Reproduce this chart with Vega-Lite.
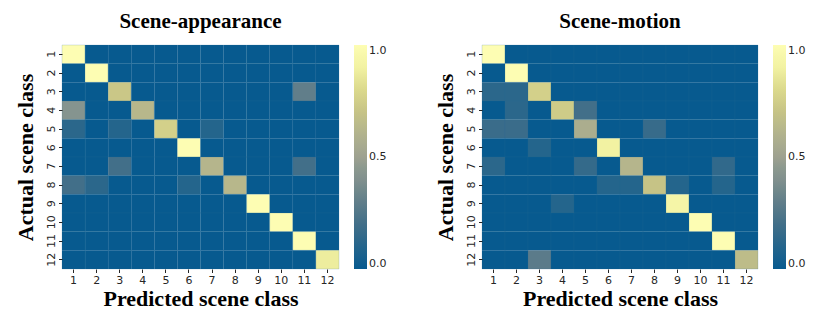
{
  "$schema": "https://vega.github.io/schema/vega-lite/v6.json",
  "background": "white",
  "padding": {"left": 14, "top": 10, "right": 5, "bottom": 3},
  "spacing": 47,
  "datasets": {
    "appearance": [
      {"actual":1,"predicted":1,"value":1},{"actual":1,"predicted":2,"value":0},{"actual":1,"predicted":3,"value":0},{"actual":1,"predicted":4,"value":0},{"actual":1,"predicted":5,"value":0},{"actual":1,"predicted":6,"value":0},{"actual":1,"predicted":7,"value":0},{"actual":1,"predicted":8,"value":0},{"actual":1,"predicted":9,"value":0},{"actual":1,"predicted":10,"value":0},{"actual":1,"predicted":11,"value":0},{"actual":1,"predicted":12,"value":0},
      {"actual":2,"predicted":1,"value":0},{"actual":2,"predicted":2,"value":1},{"actual":2,"predicted":3,"value":0},{"actual":2,"predicted":4,"value":0},{"actual":2,"predicted":5,"value":0},{"actual":2,"predicted":6,"value":0},{"actual":2,"predicted":7,"value":0},{"actual":2,"predicted":8,"value":0},{"actual":2,"predicted":9,"value":0},{"actual":2,"predicted":10,"value":0},{"actual":2,"predicted":11,"value":0},{"actual":2,"predicted":12,"value":0},
      {"actual":3,"predicted":1,"value":0},{"actual":3,"predicted":2,"value":0},{"actual":3,"predicted":3,"value":0.72},{"actual":3,"predicted":4,"value":0},{"actual":3,"predicted":5,"value":0},{"actual":3,"predicted":6,"value":0},{"actual":3,"predicted":7,"value":0},{"actual":3,"predicted":8,"value":0},{"actual":3,"predicted":9,"value":0},{"actual":3,"predicted":10,"value":0},{"actual":3,"predicted":11,"value":0.3},{"actual":3,"predicted":12,"value":0},
      {"actual":4,"predicted":1,"value":0.42},{"actual":4,"predicted":2,"value":0},{"actual":4,"predicted":3,"value":0},{"actual":4,"predicted":4,"value":0.63},{"actual":4,"predicted":5,"value":0},{"actual":4,"predicted":6,"value":0},{"actual":4,"predicted":7,"value":0},{"actual":4,"predicted":8,"value":0},{"actual":4,"predicted":9,"value":0},{"actual":4,"predicted":10,"value":0},{"actual":4,"predicted":11,"value":0},{"actual":4,"predicted":12,"value":0},
      {"actual":5,"predicted":1,"value":0.12},{"actual":5,"predicted":2,"value":0},{"actual":5,"predicted":3,"value":0.1},{"actual":5,"predicted":4,"value":0},{"actual":5,"predicted":5,"value":0.76},{"actual":5,"predicted":6,"value":0},{"actual":5,"predicted":7,"value":0.1},{"actual":5,"predicted":8,"value":0},{"actual":5,"predicted":9,"value":0},{"actual":5,"predicted":10,"value":0},{"actual":5,"predicted":11,"value":0},{"actual":5,"predicted":12,"value":0},
      {"actual":6,"predicted":1,"value":0},{"actual":6,"predicted":2,"value":0},{"actual":6,"predicted":3,"value":0},{"actual":6,"predicted":4,"value":0},{"actual":6,"predicted":5,"value":0},{"actual":6,"predicted":6,"value":1},{"actual":6,"predicted":7,"value":0},{"actual":6,"predicted":8,"value":0},{"actual":6,"predicted":9,"value":0},{"actual":6,"predicted":10,"value":0},{"actual":6,"predicted":11,"value":0},{"actual":6,"predicted":12,"value":0},
      {"actual":7,"predicted":1,"value":0},{"actual":7,"predicted":2,"value":0},{"actual":7,"predicted":3,"value":0.2},{"actual":7,"predicted":4,"value":0},{"actual":7,"predicted":5,"value":0},{"actual":7,"predicted":6,"value":0},{"actual":7,"predicted":7,"value":0.62},{"actual":7,"predicted":8,"value":0},{"actual":7,"predicted":9,"value":0},{"actual":7,"predicted":10,"value":0},{"actual":7,"predicted":11,"value":0.2},{"actual":7,"predicted":12,"value":0},
      {"actual":8,"predicted":1,"value":0.2},{"actual":8,"predicted":2,"value":0.12},{"actual":8,"predicted":3,"value":0},{"actual":8,"predicted":4,"value":0},{"actual":8,"predicted":5,"value":0},{"actual":8,"predicted":6,"value":0.1},{"actual":8,"predicted":7,"value":0},{"actual":8,"predicted":8,"value":0.63},{"actual":8,"predicted":9,"value":0},{"actual":8,"predicted":10,"value":0},{"actual":8,"predicted":11,"value":0},{"actual":8,"predicted":12,"value":0},
      {"actual":9,"predicted":1,"value":0},{"actual":9,"predicted":2,"value":0},{"actual":9,"predicted":3,"value":0},{"actual":9,"predicted":4,"value":0},{"actual":9,"predicted":5,"value":0},{"actual":9,"predicted":6,"value":0},{"actual":9,"predicted":7,"value":0},{"actual":9,"predicted":8,"value":0},{"actual":9,"predicted":9,"value":1},{"actual":9,"predicted":10,"value":0},{"actual":9,"predicted":11,"value":0},{"actual":9,"predicted":12,"value":0},
      {"actual":10,"predicted":1,"value":0},{"actual":10,"predicted":2,"value":0},{"actual":10,"predicted":3,"value":0},{"actual":10,"predicted":4,"value":0},{"actual":10,"predicted":5,"value":0},{"actual":10,"predicted":6,"value":0},{"actual":10,"predicted":7,"value":0},{"actual":10,"predicted":8,"value":0},{"actual":10,"predicted":9,"value":0},{"actual":10,"predicted":10,"value":1},{"actual":10,"predicted":11,"value":0},{"actual":10,"predicted":12,"value":0},
      {"actual":11,"predicted":1,"value":0},{"actual":11,"predicted":2,"value":0},{"actual":11,"predicted":3,"value":0},{"actual":11,"predicted":4,"value":0},{"actual":11,"predicted":5,"value":0},{"actual":11,"predicted":6,"value":0},{"actual":11,"predicted":7,"value":0},{"actual":11,"predicted":8,"value":0},{"actual":11,"predicted":9,"value":0},{"actual":11,"predicted":10,"value":0},{"actual":11,"predicted":11,"value":1},{"actual":11,"predicted":12,"value":0},
      {"actual":12,"predicted":1,"value":0},{"actual":12,"predicted":2,"value":0},{"actual":12,"predicted":3,"value":0},{"actual":12,"predicted":4,"value":0},{"actual":12,"predicted":5,"value":0},{"actual":12,"predicted":6,"value":0},{"actual":12,"predicted":7,"value":0},{"actual":12,"predicted":8,"value":0},{"actual":12,"predicted":9,"value":0},{"actual":12,"predicted":10,"value":0},{"actual":12,"predicted":11,"value":0},{"actual":12,"predicted":12,"value":0.88}
    ],
    "motion": [
      {"actual":1,"predicted":1,"value":1},{"actual":1,"predicted":2,"value":0},{"actual":1,"predicted":3,"value":0},{"actual":1,"predicted":4,"value":0},{"actual":1,"predicted":5,"value":0},{"actual":1,"predicted":6,"value":0},{"actual":1,"predicted":7,"value":0},{"actual":1,"predicted":8,"value":0},{"actual":1,"predicted":9,"value":0},{"actual":1,"predicted":10,"value":0},{"actual":1,"predicted":11,"value":0},{"actual":1,"predicted":12,"value":0},
      {"actual":2,"predicted":1,"value":0},{"actual":2,"predicted":2,"value":1},{"actual":2,"predicted":3,"value":0},{"actual":2,"predicted":4,"value":0},{"actual":2,"predicted":5,"value":0},{"actual":2,"predicted":6,"value":0},{"actual":2,"predicted":7,"value":0},{"actual":2,"predicted":8,"value":0},{"actual":2,"predicted":9,"value":0},{"actual":2,"predicted":10,"value":0},{"actual":2,"predicted":11,"value":0},{"actual":2,"predicted":12,"value":0},
      {"actual":3,"predicted":1,"value":0.12},{"actual":3,"predicted":2,"value":0.12},{"actual":3,"predicted":3,"value":0.76},{"actual":3,"predicted":4,"value":0},{"actual":3,"predicted":5,"value":0},{"actual":3,"predicted":6,"value":0},{"actual":3,"predicted":7,"value":0},{"actual":3,"predicted":8,"value":0},{"actual":3,"predicted":9,"value":0},{"actual":3,"predicted":10,"value":0},{"actual":3,"predicted":11,"value":0},{"actual":3,"predicted":12,"value":0},
      {"actual":4,"predicted":1,"value":0},{"actual":4,"predicted":2,"value":0.12},{"actual":4,"predicted":3,"value":0},{"actual":4,"predicted":4,"value":0.74},{"actual":4,"predicted":5,"value":0.2},{"actual":4,"predicted":6,"value":0},{"actual":4,"predicted":7,"value":0},{"actual":4,"predicted":8,"value":0},{"actual":4,"predicted":9,"value":0},{"actual":4,"predicted":10,"value":0},{"actual":4,"predicted":11,"value":0},{"actual":4,"predicted":12,"value":0},
      {"actual":5,"predicted":1,"value":0.17},{"actual":5,"predicted":2,"value":0.17},{"actual":5,"predicted":3,"value":0},{"actual":5,"predicted":4,"value":0},{"actual":5,"predicted":5,"value":0.57},{"actual":5,"predicted":6,"value":0},{"actual":5,"predicted":7,"value":0},{"actual":5,"predicted":8,"value":0.16},{"actual":5,"predicted":9,"value":0},{"actual":5,"predicted":10,"value":0},{"actual":5,"predicted":11,"value":0},{"actual":5,"predicted":12,"value":0},
      {"actual":6,"predicted":1,"value":0},{"actual":6,"predicted":2,"value":0},{"actual":6,"predicted":3,"value":0.1},{"actual":6,"predicted":4,"value":0},{"actual":6,"predicted":5,"value":0},{"actual":6,"predicted":6,"value":0.9},{"actual":6,"predicted":7,"value":0},{"actual":6,"predicted":8,"value":0},{"actual":6,"predicted":9,"value":0},{"actual":6,"predicted":10,"value":0},{"actual":6,"predicted":11,"value":0},{"actual":6,"predicted":12,"value":0},
      {"actual":7,"predicted":1,"value":0.12},{"actual":7,"predicted":2,"value":0},{"actual":7,"predicted":3,"value":0},{"actual":7,"predicted":4,"value":0},{"actual":7,"predicted":5,"value":0.15},{"actual":7,"predicted":6,"value":0},{"actual":7,"predicted":7,"value":0.62},{"actual":7,"predicted":8,"value":0},{"actual":7,"predicted":9,"value":0},{"actual":7,"predicted":10,"value":0},{"actual":7,"predicted":11,"value":0.14},{"actual":7,"predicted":12,"value":0},
      {"actual":8,"predicted":1,"value":0},{"actual":8,"predicted":2,"value":0},{"actual":8,"predicted":3,"value":0},{"actual":8,"predicted":4,"value":0},{"actual":8,"predicted":5,"value":0},{"actual":8,"predicted":6,"value":0.1},{"actual":8,"predicted":7,"value":0.1},{"actual":8,"predicted":8,"value":0.7},{"actual":8,"predicted":9,"value":0.1},{"actual":8,"predicted":10,"value":0},{"actual":8,"predicted":11,"value":0.1},{"actual":8,"predicted":12,"value":0},
      {"actual":9,"predicted":1,"value":0},{"actual":9,"predicted":2,"value":0},{"actual":9,"predicted":3,"value":0},{"actual":9,"predicted":4,"value":0.1},{"actual":9,"predicted":5,"value":0},{"actual":9,"predicted":6,"value":0},{"actual":9,"predicted":7,"value":0},{"actual":9,"predicted":8,"value":0},{"actual":9,"predicted":9,"value":0.93},{"actual":9,"predicted":10,"value":0},{"actual":9,"predicted":11,"value":0},{"actual":9,"predicted":12,"value":0},
      {"actual":10,"predicted":1,"value":0},{"actual":10,"predicted":2,"value":0},{"actual":10,"predicted":3,"value":0},{"actual":10,"predicted":4,"value":0},{"actual":10,"predicted":5,"value":0},{"actual":10,"predicted":6,"value":0},{"actual":10,"predicted":7,"value":0},{"actual":10,"predicted":8,"value":0},{"actual":10,"predicted":9,"value":0},{"actual":10,"predicted":10,"value":1},{"actual":10,"predicted":11,"value":0},{"actual":10,"predicted":12,"value":0},
      {"actual":11,"predicted":1,"value":0},{"actual":11,"predicted":2,"value":0},{"actual":11,"predicted":3,"value":0},{"actual":11,"predicted":4,"value":0},{"actual":11,"predicted":5,"value":0},{"actual":11,"predicted":6,"value":0},{"actual":11,"predicted":7,"value":0},{"actual":11,"predicted":8,"value":0},{"actual":11,"predicted":9,"value":0},{"actual":11,"predicted":10,"value":0},{"actual":11,"predicted":11,"value":1},{"actual":11,"predicted":12,"value":0},
      {"actual":12,"predicted":1,"value":0},{"actual":12,"predicted":2,"value":0},{"actual":12,"predicted":3,"value":0.28},{"actual":12,"predicted":4,"value":0},{"actual":12,"predicted":5,"value":0},{"actual":12,"predicted":6,"value":0},{"actual":12,"predicted":7,"value":0},{"actual":12,"predicted":8,"value":0},{"actual":12,"predicted":9,"value":0},{"actual":12,"predicted":10,"value":0},{"actual":12,"predicted":11,"value":0},{"actual":12,"predicted":12,"value":0.66}
    ]
  },
  "hconcat": [
    {
      "data": {"name": "appearance"},
      "title": {"text": "Scene-appearance"},
      "width": 277,
      "height": 224,
      "mark": {"type": "rect", "stroke": "#2a6c9b", "strokeWidth": 0.5, "strokeOpacity": 0.35},
      "encoding": {
        "x": {"field": "predicted", "type": "ordinal", "title": "Predicted scene class"},
        "y": {"field": "actual", "type": "ordinal", "title": "Actual scene class"},
        "color": {
          "field": "value", "type": "quantitative",
          "scale": {"type": "linear", "domain": [0, 1], "nice": false, "zero": false, "range": ["#075a8f","#24658c","#426f89","#617e8a","#81908e","#9ea190","#b1b28d","#c6c386","#dbd98c","#f2f2a2","#fdfdb3"]},
          "legend": {"values": [0, 0.5, 1], "format": ".1f", "title": null}
        }
      }
    },
    {
      "data": {"name": "motion"},
      "title": {"text": "Scene-motion"},
      "width": 276,
      "height": 224,
      "mark": {"type": "rect", "stroke": "#2a6c9b", "strokeWidth": 0.5, "strokeOpacity": 0.35},
      "encoding": {
        "x": {"field": "predicted", "type": "ordinal", "title": "Predicted scene class"},
        "y": {"field": "actual", "type": "ordinal", "title": "Actual scene class"},
        "color": {
          "field": "value", "type": "quantitative",
          "scale": {"type": "linear", "domain": [0, 1], "nice": false, "zero": false, "range": ["#075a8f","#24658c","#426f89","#617e8a","#81908e","#9ea190","#b1b28d","#c6c386","#dbd98c","#f2f2a2","#fdfdb3"]},
          "legend": {"values": [0, 0.5, 1], "format": ".1f", "title": null}
        }
      }
    }
  ],
  "resolve": {"scale": {"color": "independent"}},
  "config": {
    "view": {"stroke": null},
    "title": {"font": "Liberation Serif", "fontSize": 21, "fontWeight": "bold", "color": "#000000", "anchor": "middle", "offset": 13},
    "axis": {
      "labelFont": "DejaVu Sans", "labelFontSize": 11, "labelColor": "#262626",
      "tickColor": "#262626", "tickSize": 3.5, "domain": false, "grid": false,
      "labelPadding": 2,
      "titleFont": "Liberation Serif", "titleFontSize": 22, "titleFontWeight": "bold", "titleColor": "#000000"
    },
    "axisX": {"labelAngle": 0, "titlePadding": 3},
    "axisY": {"labelAngle": 270, "titlePadding": 8},
    "legend": {
      "gradientLength": 224, "gradientThickness": 13, "offset": 15,
      "labelFont": "DejaVu Sans", "labelFontSize": 11, "labelColor": "#262626",
      "labelOffset": 6, "gradientStrokeWidth": 0, "direction": "vertical"
    }
  }
}
